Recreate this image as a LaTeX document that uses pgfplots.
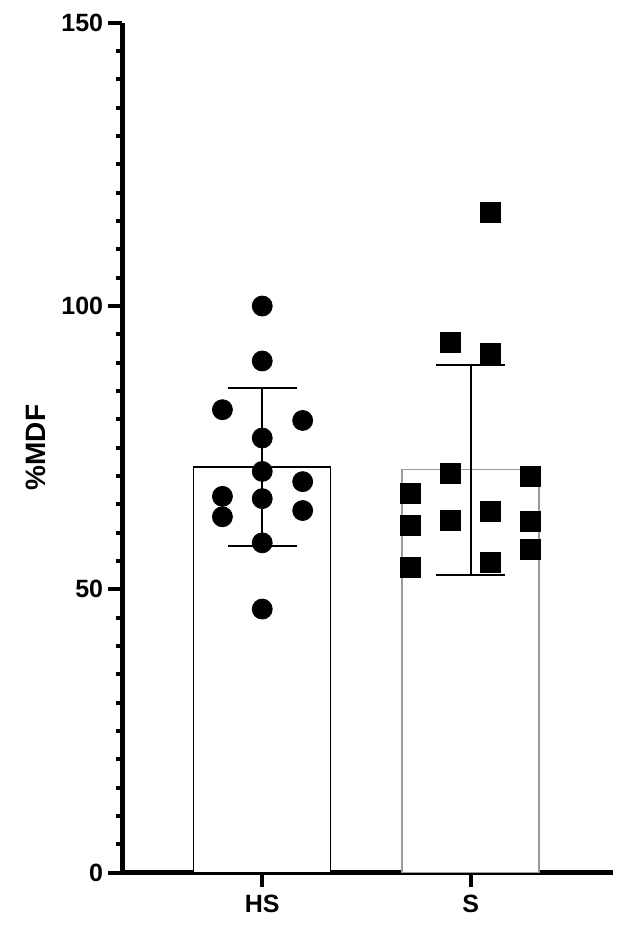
\documentclass[border=0pt]{standalone}
\usepackage{fontspec}
\setmainfont{Liberation Sans}
\usepackage{pgfplots}
\pgfplotsset{compat=1.18}
\definecolor{bargray}{RGB}{155,155,155}
\begin{document}
\begin{tikzpicture}
\path[use as bounding box] (-61.25pt,-37.25pt) rectangle (254.25pt,436.25pt);
\begin{axis}[
  at={(0pt,0pt)}, anchor=south west,
  scale only axis, width=245pt, height=424.85pt,
  xmin=-0.6705, xmax=1.6806, ymin=0, ymax=150,
  axis lines*=left,
  axis line style={-, line width=2.4pt, black},
  xtick={0,1}, xticklabels={HS,S},
  ytick={0,50,100,150}, minor y tick num=9,
  tick align=outside, tick pos=left,
  major tick length=7pt, minor tick length=3.4pt,
  every tick/.style={line width=2pt, black},
  /pgf/number format/assume math mode=true,
  tick label style={font=\fontsize{12.5}{14}\selectfont\bfseries},
  yticklabel style={inner sep=2.5pt},
  xticklabel style={inner sep=4pt},
  ylabel={\%MDF},
  every axis y label/.style={at={(rel axis cs:0,0.5)}, xshift=-43.25pt, rotate=90, anchor=center, font=\fontsize{14}{16}\selectfont\bfseries},
  clip=false,
]
\addplot[ybar, bar width=68.5pt, bar shift=0pt, draw=black, line width=0.75pt, fill=white,
  error bars/.cd, y dir=both, y explicit,
  error bar style={black, line width=1pt},
  error mark options={black, line width=1pt, mark size=17.25pt, rotate=90}]
  coordinates {(0,71.6) +- (0,14.0)};
\addplot[ybar, bar width=68.5pt, bar shift=0pt, draw=bargray, line width=0.75pt, fill=white,
  error bars/.cd, y dir=both, y explicit,
  error bar style={black, line width=1pt},
  error mark options={black, line width=1pt, mark size=17.25pt, rotate=90}]
  coordinates {(1,71.1) +- (0,18.5)};
\addplot[only marks, mark=*, mark size=5pt, mark options={draw=black, fill=black, line width=0.4pt}]
  coordinates {
  (0,100) (0,90.3) (-0.191,81.7) (0.194,79.8) (0,76.7) (0,70.8) (0.194,69.0)
  (-0.191,66.4) (0,66.0) (0.194,63.9) (-0.191,62.8) (0,58.2) (0,46.5)
  };
\addplot[only marks, mark=square*, mark size=5pt, mark options={draw=black, fill=black, line width=0.4pt}]
  coordinates {
  (1.0957,116.6) (0.9043,93.6) (1.0957,91.6) (0.9043,70.4) (1.287,69.9)
  (0.713,67.0) (1.0957,63.8) (0.9043,62.1) (0.713,61.2) (1.287,61.9)
  (1.287,57.0) (1.0957,54.7) (0.713,53.9)
  };
\end{axis}
\end{tikzpicture}
\end{document}
